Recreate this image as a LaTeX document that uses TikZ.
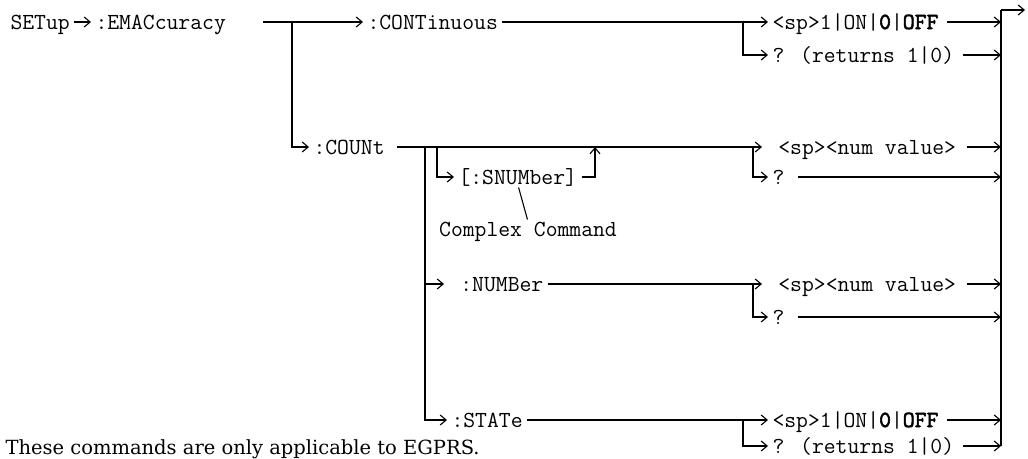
\documentclass[tikz,border=0pt]{standalone}
\usepackage{fontspec}
\newfontfamily\notefont{DejaVu Serif}
\newfontfamily\keyfont{Latin Modern Mono}[FakeBold=2.5]
\newcommand\kw[1]{{\keyfont #1}}
\usetikzlibrary{arrows.meta,positioning}

\begin{document}
\begin{tikzpicture}[x=1pt, y=-1pt, line width=1.1pt, >={Straight Barb[length=6pt, width=10pt]},
        cmd/.style={anchor=west, inner xsep=4pt, inner ysep=0pt, text height=14pt, text depth=0pt,
          font=\ttfamily\fontsize{23}{26}\selectfont},
        note/.style={anchor=base west, inner sep=0pt, font=\notefont\fontsize{19.5}{22}\selectfont}]
  \useasboundingbox (0,0) rectangle (1028,458);

  % SETup:EMACcuracy
  \node[cmd] (setup) at (6,22) {SETup};
  \node[cmd] (emac) at (91,22) {:EMACcuracy};
  \draw[->] (setup) -- (emac);
  \coordinate (start) at (263,22);
  \coordinate (jtop) at (292,22);
  \node[cmd] (cont) at (363,22) {:CONTinuous};
  \node[cmd] (count) at (309,147) {:COUNt};
  \draw[->] (start) -- (cont);
  \draw[->] (jtop) |- (count);

  % bus on the right
  \coordinate (bustop) at (1001,10);
  \coordinate (busbot) at (1001,446);
  \coordinate (exit) at (1025,10);
  \draw (bustop) -- (busbot);
  \draw[->] (bustop) -- (exit);

  % :CONTinuous
  \node[cmd] (onoffa) at (768,22) {<sp>1|ON|\kw{0}|\kw{OFF}};
  \node[cmd] (querya) at (768,55) {? (returns 1|0)};
  \coordinate (ja) at (743,22);
  \draw[->] (cont) -- (onoffa);
  \draw[->] (ja) |- (querya);
  \draw[->, shorten <=4pt] (onoffa) -- (onoffa -| bustop);
  \draw[->, shorten <=4pt] (querya) -- (querya -| bustop);

  % :COUNt
  \coordinate (ctrunk) at (425,147);
  \coordinate (jsn) at (437,147);
  \coordinate (jup) at (595,147);
  \coordinate (jc) at (753,147);
  \node[cmd] (numa) at (762,147) {\ <sp><num value>};
  \node[cmd] (queryc) at (768,177) {?};
  \draw[->, shorten <=8pt] (count) -- (numa);
  \draw[->] (jc) |- (queryc);
  \draw[->, shorten <=6pt] (numa) -- (numa -| bustop);
  \draw[->, shorten <=9pt] (queryc) -- (queryc -| bustop);

  % [:SNUMber]
  \node[cmd] (snum) at (454,177) {[:SNUMber]};
  \node[cmd, anchor=center] (complex) at (528,229) {Complex Command};
  \draw[->] (jsn) |- (snum);
  \draw[->] (snum) -| (jup);
  \draw[shorten <=3pt, shorten >=2pt] (snum.south) -- (complex.north);

  % :NUMBer
  \coordinate (jn) at (425,284);
  \coordinate (jnb) at (753,284);
  \node[cmd] (number) at (444,284) {\ :NUMBer};
  \node[cmd] (numb) at (762,284) {\ <sp><num value>};
  \node[cmd] (queryn) at (768,317) {?};
  \draw[->] (jn) -- (number);
  \draw[->] (number) -- (numb);
  \draw[->] (jnb) |- (queryn);
  \draw[->, shorten <=6pt] (numb) -- (numb -| bustop);
  \draw[->, shorten <=9pt] (queryn) -- (queryn -| bustop);

  % :STATe
  \node[cmd] (state) at (447,420) {:STATe};
  \node[cmd] (onoffb) at (768,420) {<sp>1|ON|\kw{0}|\kw{OFF}};
  \node[cmd] (queryb) at (768,446) {? (returns 1|0)};
  \coordinate (jb) at (743,420);
  \draw (ctrunk) -- (jn);
  \draw[->] (jn) |- (state);
  \draw[->] (state) -- (onoffb);
  \draw[->] (jb) |- (queryb);
  \draw[->, shorten <=4pt] (onoffb) -- (onoffb -| bustop);
  \draw[->, shorten <=4pt] (queryb) -- (queryb -| bustop);

  \node[note] (egprs) at (5,454) {These commands are only applicable to EGPRS.};
\end{tikzpicture}
\end{document}
